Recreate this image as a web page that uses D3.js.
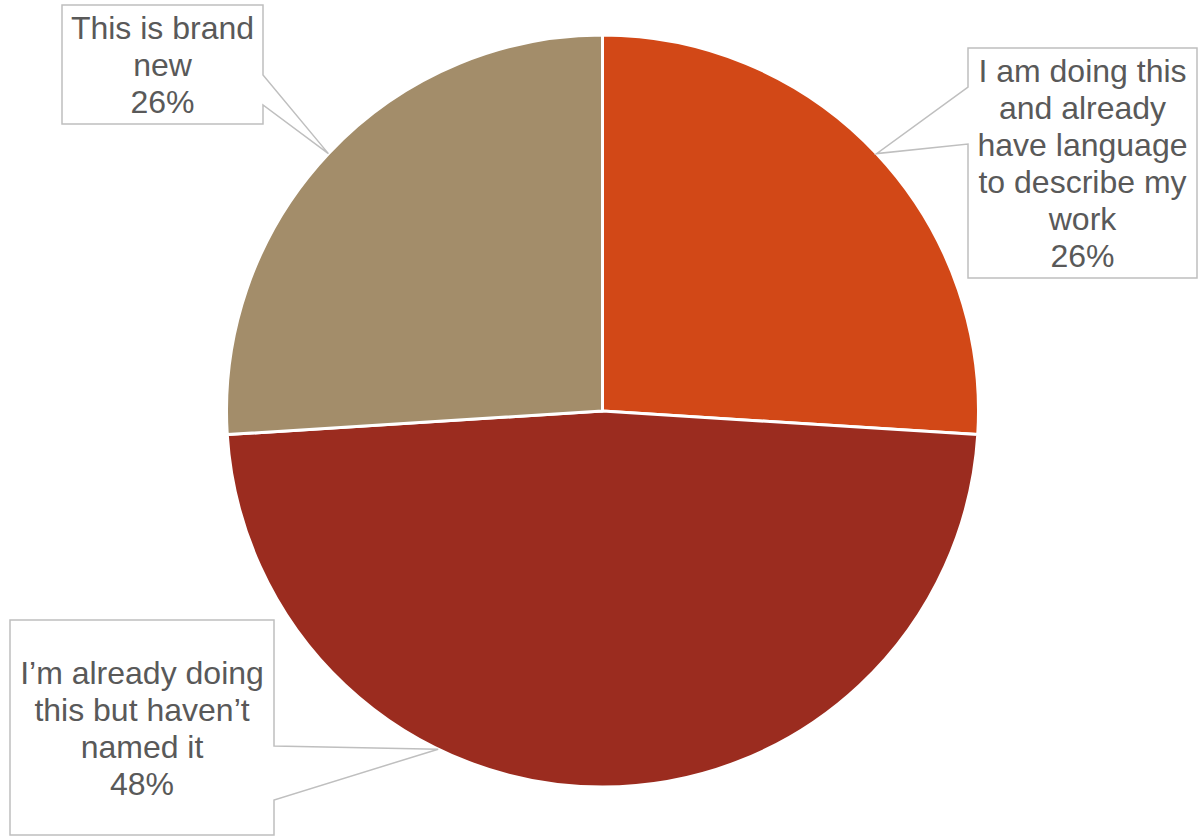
<!DOCTYPE html>
<html>
<head>
<meta charset="utf-8">
<script src="https://cdn.jsdelivr.net/npm/d3@7"></script>
<style>
  html, body { margin: 0; padding: 0; background: #fff; }
  svg { display: block; }
</style>
</head>
<body>
<svg id="chart" width="1203" height="836"></svg>
<script>
// Survey responses, clockwise from 12 o'clock
const categories = [
  ["I am doing this", "and already", "have language", "to describe my", "work"],
  ["I\u2019m already doing", "this but haven\u2019t", "named it"],
  ["This is brand", "new"]
];
const values = [26, 48, 26];
const valueLabels = ["26%", "48%", "26%"];
const colors = ["#D24817", "#9B2C1F", "#A38D6A"];

// Callout boxes: box bounds, which side the pointer leaves from,
// where the pointer's base sits on that side, and where along the slice it points
const callouts = [
  { x0: 968, y0: 48, x1: 1197, y1: 278, side: "left", n0: 87, n1: 144, at: 0.5 },
  { x0: 10, y0: 620, x1: 274, y1: 835, side: "right", n0: 746, n1: 800, at: 0.65 },
  { x0: 62, y0: 5, x1: 263, y1: 124, side: "right", n0: 75, n1: 105, at: 0.5 }
];

const svg = d3.select("#chart");
const cx = 602.5, cy = 411, r = 376;

const pie = d3.pie().sort(null).value(d => d).startAngle(0).endAngle(2 * Math.PI);
const arcs = pie(values);
const arc = d3.arc().innerRadius(0).outerRadius(r);

const g = svg.append("g").attr("transform", `translate(${cx},${cy})`);
g.selectAll("path.slice")
  .data(arcs)
  .join("path")
  .attr("class", "slice")
  .attr("d", arc)
  .attr("fill", (d, i) => colors[i])
  .attr("stroke", "#fff")
  .attr("stroke-width", 3)
  .attr("stroke-linejoin", "round");

// Callout labels
const lineHeight = 37;
arcs.forEach((a, i) => {
  const c = callouts[i];
  const ang = a.startAngle + (a.endAngle - a.startAngle) * c.at;
  const tx = cx + r * Math.sin(ang);
  const ty = cy - r * Math.cos(ang);

  let p;
  if (c.side === "right") {
    p = `M${c.x0},${c.y0}H${c.x1}V${c.n0}L${tx},${ty}L${c.x1},${c.n1}V${c.y1}H${c.x0}Z`;
  } else {
    p = `M${c.x0},${c.y0}H${c.x1}V${c.y1}H${c.x0}V${c.n1}L${tx},${ty}L${c.x0},${c.n0}Z`;
  }
  svg.append("path")
    .attr("d", p)
    .attr("fill", "#fff")
    .attr("stroke", "#BFBFBF")
    .attr("stroke-width", 1.5)
    .attr("stroke-linejoin", "miter");

  const lines = categories[i].concat([valueLabels[i]]);
  const mx = (c.x0 + c.x1) / 2;
  const my = (c.y0 + c.y1) / 2;
  const t = svg.append("text")
    .attr("text-anchor", "middle")
    .attr("font-family", "'Liberation Sans', Arial, sans-serif")
    .attr("font-size", 32)
    .attr("fill", "#595959");
  lines.forEach((ln, k) => {
    t.append("tspan")
      .attr("x", mx)
      .attr("y", my + (k - (lines.length - 1) / 2) * lineHeight + 11.5)
      .text(ln);
  });
});
</script>
</body>
</html>
